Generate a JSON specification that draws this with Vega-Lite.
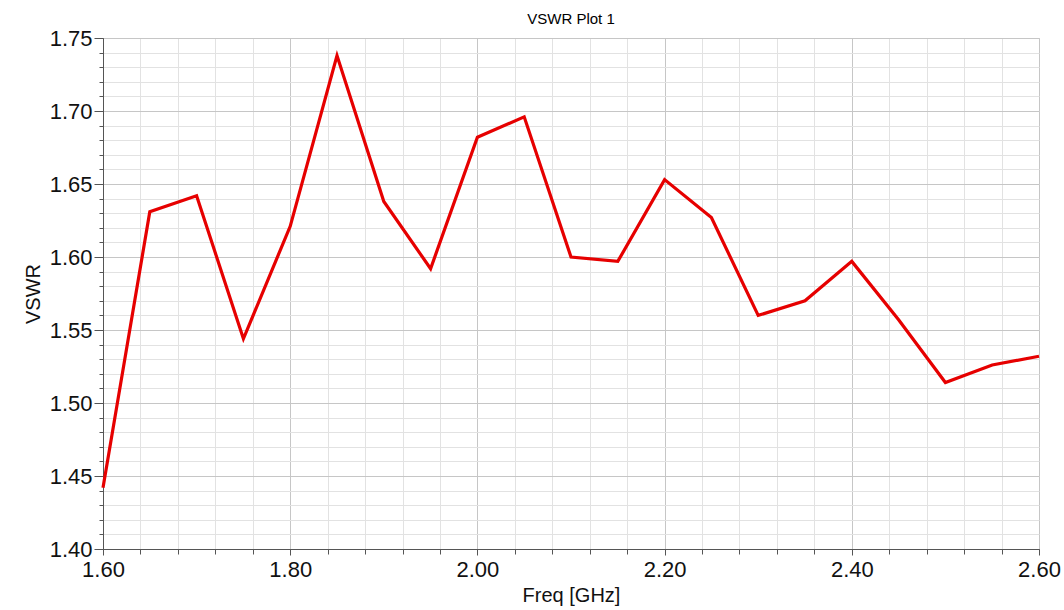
{
  "$schema": "https://vega.github.io/schema/vega-lite/v6.json",
  "width": 936,
  "height": 511,
  "autosize": {"type": "none"},
  "padding": {"left": 103, "top": 38, "right": 25, "bottom": 61},
  "background": "white",
  "title": {"text": "VSWR Plot 1", "font": "Liberation Sans", "fontSize": 15, "fontWeight": "normal", "color": "#000000", "offset": 0, "anchor": "middle"},
  "config": {
    "view": {"stroke": "#555555", "strokeWidth": 1},
    "axis": {"labelFont": "Liberation Sans", "titleFont": "Liberation Sans", "labelColor": "#111111", "titleColor": "#111111", "domainColor": "#555555", "tickColor": "#555555"}
  },
  "data": {"values": [
    {"freq": 1.60, "vswr": 1.442},
    {"freq": 1.65, "vswr": 1.631},
    {"freq": 1.70, "vswr": 1.642},
    {"freq": 1.75, "vswr": 1.544},
    {"freq": 1.80, "vswr": 1.621},
    {"freq": 1.85, "vswr": 1.738},
    {"freq": 1.90, "vswr": 1.638},
    {"freq": 1.95, "vswr": 1.592},
    {"freq": 2.00, "vswr": 1.682},
    {"freq": 2.05, "vswr": 1.696},
    {"freq": 2.10, "vswr": 1.600},
    {"freq": 2.15, "vswr": 1.597},
    {"freq": 2.20, "vswr": 1.653},
    {"freq": 2.25, "vswr": 1.627},
    {"freq": 2.30, "vswr": 1.560},
    {"freq": 2.35, "vswr": 1.570},
    {"freq": 2.40, "vswr": 1.597},
    {"freq": 2.45, "vswr": 1.557},
    {"freq": 2.50, "vswr": 1.514},
    {"freq": 2.55, "vswr": 1.526},
    {"freq": 2.60, "vswr": 1.532}
  ]},
  "resolve": {"axis": {"x": "independent", "y": "independent"}},
  "layer": [
    {
      "mark": {"type": "line", "strokeOpacity": 0},
      "encoding": {
        "x": {"field": "freq", "type": "quantitative", "scale": {"domain": [1.6, 2.6], "nice": false, "zero": false},
          "axis": {"orient": "bottom", "title": null, "labels": false, "domain": false, "tickSize": 5, "values": [1.60,1.64,1.68,1.72,1.76,1.80,1.84,1.88,1.92,1.96,2.00,2.04,2.08,2.12,2.16,2.20,2.24,2.28,2.32,2.36,2.40,2.44,2.48,2.52,2.56,2.60], "grid": true, "gridColor": "#e2e2e2", "gridWidth": 1}},
        "y": {"field": "vswr", "type": "quantitative", "scale": {"domain": [1.4, 1.75], "nice": false, "zero": false},
          "axis": {"orient": "left", "title": null, "labels": false, "domain": false, "tickSize": 4, "values": [1.40,1.41,1.42,1.43,1.44,1.45,1.46,1.47,1.48,1.49,1.50,1.51,1.52,1.53,1.54,1.55,1.56,1.57,1.58,1.59,1.60,1.61,1.62,1.63,1.64,1.65,1.66,1.67,1.68,1.69,1.70,1.71,1.72,1.73,1.74,1.75], "grid": true, "gridColor": "#e2e2e2", "gridWidth": 1}}
      }
    },
    {
      "mark": {"type": "line", "color": "#e60000", "strokeWidth": 3.2, "strokeJoin": "miter"},
      "encoding": {
        "x": {"field": "freq", "type": "quantitative",
          "axis": {"orient": "bottom", "title": "Freq [GHz]", "titleFontSize": 20, "titleFontWeight": "normal", "titlePadding": 5, "labelFontSize": 22, "labelPadding": 4, "format": ".2f", "tickSize": 6, "values": [1.6, 1.8, 2.0, 2.2, 2.4, 2.6], "grid": true, "gridColor": "#c6c6c6", "labelFlush": false, "labelOverlap": false}},
        "y": {"field": "vswr", "type": "quantitative",
          "axis": {"orient": "left", "title": "VSWR", "titleFontSize": 20, "titleFontWeight": "normal", "titlePadding": 6, "labelFontSize": 22, "labelPadding": 2, "format": ".2f", "tickSize": 9, "values": [1.40, 1.45, 1.50, 1.55, 1.60, 1.65, 1.70, 1.75], "grid": true, "gridColor": "#c6c6c6", "labelOverlap": false}}
      }
    }
  ]
}
